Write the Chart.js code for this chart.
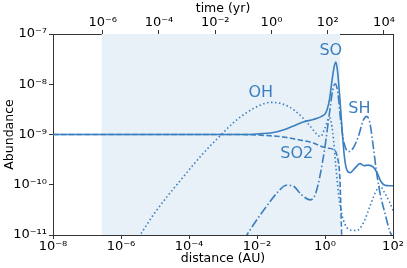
<!DOCTYPE html>
<html lang="en">
<head>
<meta charset="UTF-8" />
<title>Abundance vs distance</title>
<script src="https://cdn.jsdelivr.net/npm/chart.js"></script>
<style>
  html, body { margin: 0; padding: 0; background: #fff; }
</style>
</head>
<body>
<canvas id="chart" width="407" height="268"></canvas>
<script>
// values are log10(distance / AU) and log10(abundance)
const soLogD = [-8, -4, -2.5, -2.0, -1.52, -1.23, -0.93, -0.64, -0.34, -0.10, 0.03, 0.13, 0.21, 0.27, 0.32, 0.37, 0.44, 0.51, 0.57, 0.64, 0.74, 0.88, 1.03, 1.15, 1.27, 1.42, 1.54, 1.64, 1.76, 1.91, 2.0];
const soLogA = [-9.0, -9.0, -9.0, -8.99, -8.96, -8.91, -8.83, -8.75, -8.70, -8.64, -8.56, -8.31, -7.91, -7.65, -7.56, -7.75, -8.31, -8.97, -9.44, -9.70, -9.76, -9.67, -9.58, -9.62, -9.61, -9.65, -9.77, -9.93, -10.01, -10.02, -10.02];

const ohLogD = [-5.55, -5.44, -5.05, -4.66, -4.26, -3.87, -3.48, -3.09, -2.70, -2.30, -1.91, -1.62, -1.32, -1.03, -0.74, -0.44, -0.25, -0.13, 0.0, 0.13, 0.23, 0.32, 0.42, 0.54, 0.74, 0.93, 1.13, 1.32, 1.52, 1.62, 1.76, 1.89, 2.0];
const ohLogA = [-11.1, -11.0, -10.6, -10.25, -9.92, -9.60, -9.30, -9.03, -8.77, -8.56, -8.42, -8.36, -8.38, -8.46, -8.61, -8.83, -8.99, -9.04, -8.87, -8.66, -8.97, -9.64, -10.3, -10.7, -10.9, -10.91, -10.76, -10.43, -10.1, -10.03, -10.17, -10.33, -10.51];

const shLogD = [-2.40, -2.30, -2.01, -1.72, -1.42, -1.13, -0.93, -0.69, -0.44, -0.29, -0.15, 0.0, 0.13, 0.23, 0.30, 0.38, 0.46, 0.56, 0.69, 0.83, 0.98, 1.13, 1.23, 1.32, 1.42, 1.52, 1.62, 1.76, 1.91, 2.0];
const shLogA = [-11.1, -11.0, -10.7, -10.43, -10.17, -10.01, -10.03, -10.2, -10.30, -10.2, -9.83, -9.24, -8.58, -8.11, -7.99, -8.18, -8.71, -9.17, -9.34, -9.27, -9.04, -8.71, -8.64, -8.77, -9.24, -9.77, -10.17, -10.56, -10.93, -11.05];

const so2LogD = [-8, -4, -2.5, -1.72, -1.23, -0.74, -0.34, -0.10, 0.05, 0.25, 0.36, 0.44, 0.49, 0.52];
const so2LogA = [-9.0, -9.0, -9.0, -9.02, -9.05, -9.11, -9.17, -9.24, -9.27, -9.30, -9.44, -9.9, -11.0, -11.5];

// species name labels: [name, log10 distance, log10 abundance]
const speciesLabels = [
  ["SO", 0.17, -7.33],
  ["OH", -1.89, -8.17],
  ["SH", 1.01, -8.48],
  ["SO2", -0.83, -9.39]
];

// shaded interval in distance (AU)
const shadeRange = [2.7e-7, 2.76];

// tick values
const distTicks = [1e-8, 1e-6, 1e-4, 1e-2, 1e0, 1e2];
const timeTicks = [1e-6, 1e-4, 1e-2, 1e0, 1e2, 1e4];
const abundTicks = [1e-11, 1e-10, 1e-9, 1e-8, 1e-7];
const timeRange = [Math.pow(10, -7.767), Math.pow(10, 4.32)];

const blue = "#3a7fbf";
const tickFont = { family: "DejaVu Sans", size: 13 };
const titleFont = { family: "DejaVu Sans", size: 12.5 };

function toPoints(lx, ly) {
  return lx.map((v, i) => ({ x: Math.pow(10, v), y: Math.pow(10, ly[i]) }));
}

function powLabel(v) {
  const sup = { "-": "\u207B", "0": "\u2070", "1": "\u00B9", "2": "\u00B2", "3": "\u00B3", "4": "\u2074", "5": "\u2075", "6": "\u2076", "7": "\u2077", "8": "\u2078", "9": "\u2079" };
  const e = String(Math.round(Math.log10(v)));
  return "10" + e.split("").map((c) => sup[c]).join("");
}

function line(label, lx, ly, dash) {
  return {
    label,
    data: toPoints(lx, ly),
    borderColor: blue,
    borderWidth: 1.6,
    borderDash: dash,
    pointRadius: 0,
    cubicInterpolationMode: "monotone",
    fill: false,
  };
}

// light blue band behind the curves
const shadePlugin = {
  id: "shade",
  beforeDatasetsDraw(chart) {
    const { ctx, chartArea, scales } = chart;
    const x0 = scales.x.getPixelForValue(shadeRange[0]);
    const x1 = scales.x.getPixelForValue(shadeRange[1]);
    ctx.save();
    ctx.fillStyle = "#e8f0f8";
    ctx.fillRect(x0, chartArea.top, x1 - x0, chartArea.bottom - chartArea.top);
    ctx.restore();
  },
};

// species names drawn in the plot
const labelPlugin = {
  id: "speciesLabels",
  afterDatasetsDraw(chart) {
    const { ctx, scales } = chart;
    ctx.save();
    ctx.fillStyle = blue;
    ctx.font = "16px 'DejaVu Sans'";
    ctx.textAlign = "center";
    ctx.textBaseline = "middle";
    speciesLabels.forEach(([name, lx, ly]) => {
      ctx.fillText(name, scales.x.getPixelForValue(Math.pow(10, lx)), scales.y.getPixelForValue(Math.pow(10, ly)));
    });
    ctx.restore();
  },
};

const axisGrid = { drawOnChartArea: false, tickLength: 4, color: "#333" };
const axisBorder = { color: "#333", width: 1 };

new Chart(document.getElementById("chart"), {
  type: "line",
  data: {
    datasets: [
      line("SO", soLogD, soLogA, []),
      line("OH", ohLogD, ohLogA, [1.5, 2.5]),
      line("SH", shLogD, shLogA, [9, 2.5, 1.5, 2.5]),
      line("SO2", so2LogD, so2LogA, [5.5, 2.4]),
    ],
  },
  options: {
    responsive: false,
    animation: false,
    layout: { padding: 0 },
    plugins: { legend: { display: false }, tooltip: { enabled: false } },
    scales: {
      x: {
        type: "logarithmic",
        position: "bottom",
        min: 1e-8,
        max: 1e2,
        afterBuildTicks: (a) => { a.ticks = distTicks.map((v) => ({ value: v })); },
        afterFit: (s) => { s.height = 33; },
        ticks: { callback: (v) => powLabel(v), font: tickFont, color: "#000", maxRotation: 0, autoSkip: false, padding: 0 },
        grid: axisGrid,
        border: axisBorder,
        title: { display: true, text: "distance (AU)", font: titleFont, color: "#000", padding: { top: 0, bottom: 2 } },
      },
      xTop: {
        type: "logarithmic",
        position: "top",
        min: timeRange[0],
        max: timeRange[1],
        afterBuildTicks: (a) => { a.ticks = timeTicks.map((v) => ({ value: v })); },
        afterFit: (s) => { s.height = 34; },
        ticks: { callback: (v) => powLabel(v), font: tickFont, color: "#000", maxRotation: 0, autoSkip: false, padding: 0 },
        grid: axisGrid,
        border: axisBorder,
        title: { display: true, text: "time (yr)", font: titleFont, color: "#000", padding: { top: 1, bottom: 0 } },
      },
      y: {
        type: "logarithmic",
        position: "left",
        min: 1e-11,
        max: 1e-7,
        afterBuildTicks: (a) => { a.ticks = abundTicks.map((v) => ({ value: v })); },
        afterFit: (s) => { s.width = 53; },
        ticks: { callback: (v) => powLabel(v), font: tickFont, color: "#000", autoSkip: false, padding: 2 },
        grid: axisGrid,
        border: axisBorder,
        title: { display: true, text: "Abundance", font: titleFont, color: "#000", padding: { top: 2, bottom: 0 } },
      },
      yRight: {
        type: "logarithmic",
        position: "right",
        min: 1e-11,
        max: 1e-7,
        afterFit: (s) => { s.width = 14; },
        ticks: { display: false },
        grid: { drawOnChartArea: false, drawTicks: false },
        border: axisBorder,
      },
    },
  },
  plugins: [shadePlugin, labelPlugin],
});
</script>
</body>
</html>
